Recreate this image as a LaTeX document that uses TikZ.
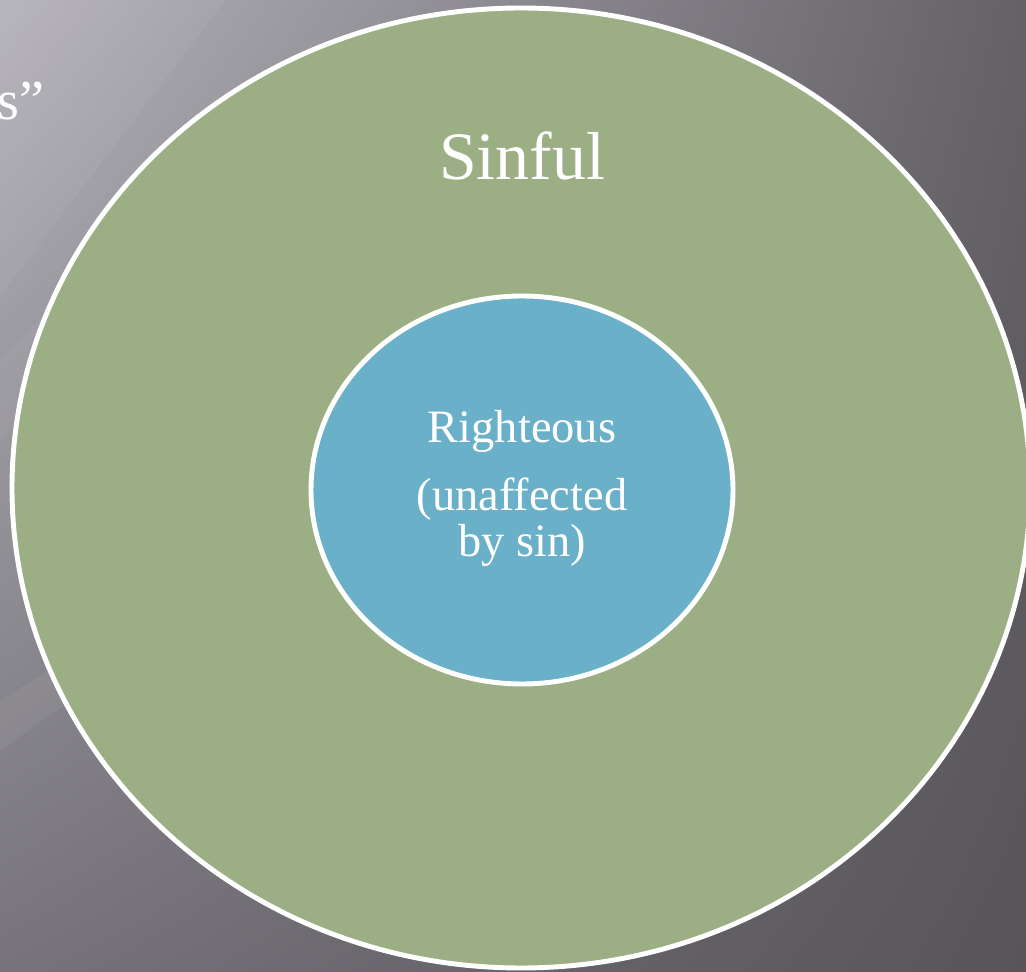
\documentclass[tikz,border=0pt]{standalone}
\usepackage{fontspec}
\setmainfont{Liberation Serif}
\usetikzlibrary{shadings}
\definecolor{bgLight}{HTML}{B4B2B9}
\definecolor{bgMid}{HTML}{76737A}
\definecolor{bgDark}{HTML}{646167}
\definecolor{bgDarker}{HTML}{57545A}
\definecolor{sinGreen}{HTML}{9CAF84}
\definecolor{rightBlue}{HTML}{6AB0C9}
\begin{document}
\begin{tikzpicture}
        \tikzstyle{every node}=[font=\normalsize, text=white]
        \useasboundingbox (0,0) rectangle (20.52,19.42);

        % slide background with faint diagonal streaks
        \shade[upper left=bgLight, upper right=bgDark, lower left=bgMid, lower right=bgDarker] (0,0) rectangle (20.52,19.42);
        \fill[white, opacity=0.05] (0,19.42) -- (4.5,19.42) -- (0,13.5) -- cycle;
        \fill[white, opacity=0.04] (0,12.2) -- (3.2,15.6) -- (3.2,14.2) -- (0,10.6) -- cycle;
        \fill[white, opacity=0.05] (0,5.4) -- (2.8,7.2) -- (2.8,6.4) -- (0,4.4) -- cycle;

        \draw[white, line width=2.8pt, fill=sinGreen] (10.42,9.66) ellipse (10.18cm and 9.6cm);
        \draw[white, line width=2.8pt, fill=rightBlue] (10.44,9.62) ellipse (4.22cm and 3.88cm);

        \node[font=\fontsize{32}{36}\selectfont, anchor=base west, inner sep=0pt] (title) at (-0.05,17.02) {s”};
        \node[font=\fontsize{38.6}{44}\selectfont, anchor=base] (sinful) at (10.44,15.82) {Sinful};
        \node[font=\fontsize{26.4}{27}\selectfont, anchor=base] (righteous) at (10.44,10.56) {Righteous};
        \node[font=\fontsize{26.4}{26.7}\selectfont, anchor=base, align=center] (unaffected) at (10.44,8.28) {(unaffected\\by sin)};
    \end{tikzpicture}
\end{document}
